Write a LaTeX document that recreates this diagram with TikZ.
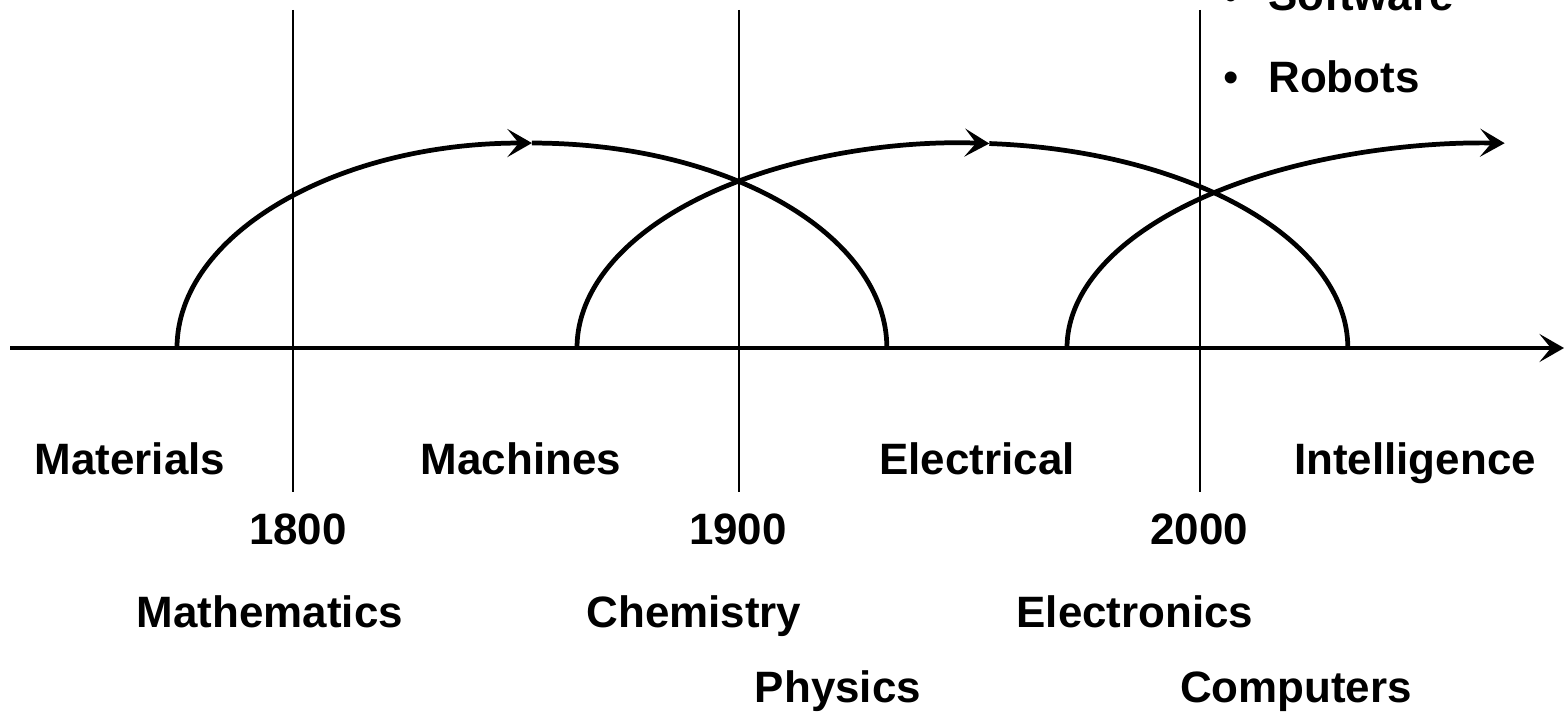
\documentclass[tikz,border=0pt]{standalone}
\usepackage{fontspec}
\setmainfont{Liberation Sans}
\usetikzlibrary{arrows.meta}
\begin{document}
\begin{tikzpicture}[x=0.02cm,y=0.02cm,
  every node/.style={font=\fontsize{25}{30}\selectfont\bfseries,inner sep=0pt,anchor=base},
  wave/.style={line width=2.7pt},
  tip/.style={-{Stealth[length=14pt,width=16pt,inset=6.5pt]}}]
\useasboundingbox (0,0) rectangle (1564,711);
% time axis and century lines
\coordinate (ax0) at (10,363);
\coordinate (ax1) at (1564,363);
\draw[line width=1.9pt,tip] (ax0) -- (ax1);
\foreach \x in {293,739,1200}
  \draw[line width=1.2pt] (\x,701) -- (\x,219);
% waves
\draw[wave,tip] (177,363) arc[start angle=180,end angle=90,x radius=7.1cm,y radius=4.1cm] coordinate (top1);
\draw[wave] (top1) arc[start angle=90,end angle=0,x radius=7.1cm,y radius=4.1cm];
\draw[wave,tip] (577,363) arc[start angle=180,end angle=86,x radius=7.71cm,y radius=4.1cm] coordinate (top2);
\draw[wave] (top2) arc[start angle=86,end angle=0,x radius=7.71cm,y radius=4.1cm];
\draw[wave,tip] (1067,363) arc[start angle=180,end angle=88,x radius=8.46cm,y radius=4.1cm];
% labels
\node (materials) at (130,237) {Materials};
\node (machines) at (521,237) {Machines};
\node (electrical) at (977,237) {Electrical};
\node (intelligence) at (1415,237) {Intelligence};
\node (y1800) at (298,167) {1800};
\node (y1900) at (738,167) {1900};
\node (y2000) at (1199,167) {2000};
\node (maths) at (270,84) {Mathematics};
\node (chem) at (694,84) {Chemistry};
\node (electronics) at (1135,84) {Electronics};
\node (physics) at (838,9) {Physics};
\node (computers) at (1296,9) {Computers};
% bullet list
\node[font=\fontsize{25}{30}\selectfont] (b1) at (1231,700) {•};
\node[anchor=base west] (software) at (1268,700) {Software};
\node[font=\fontsize{25}{30}\selectfont] (b2) at (1231,618) {•};
\node[anchor=base west] (robots) at (1268,618) {Robots};
\end{tikzpicture}
\end{document}
